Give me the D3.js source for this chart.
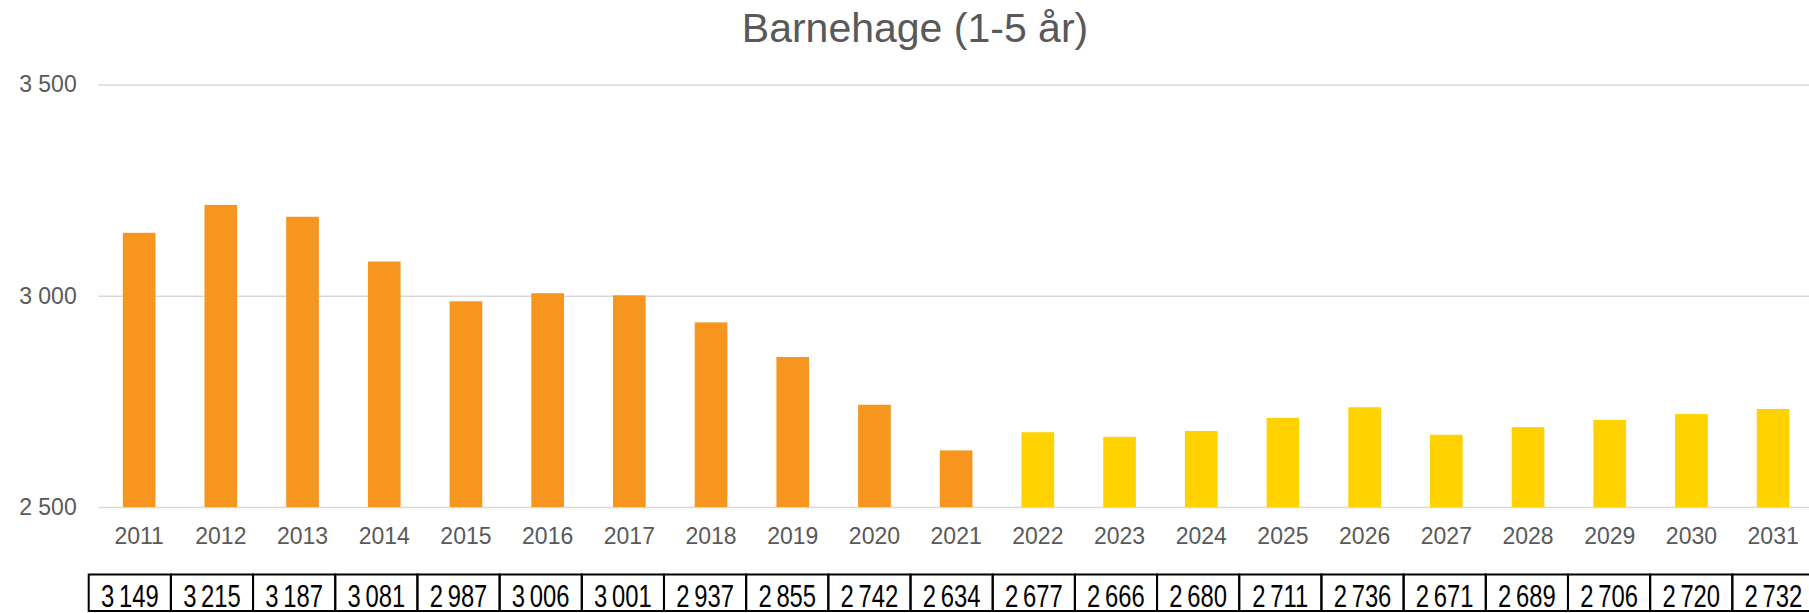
<!DOCTYPE html>
<html>
<head>
<meta charset="utf-8">
<script src="https://cdn.jsdelivr.net/npm/d3@7"></script>
<style>
  body { margin: 0; background: #fff; }
  svg { display: block; }
</style>
</head>
<body>
<div class="canvas"></div>
<script>
// data
const years = ['2011','2012','2013','2014','2015','2016','2017','2018','2019','2020','2021',
    '2022','2023','2024','2025','2026','2027','2028','2029','2030','2031'];
const values = [3149, 3215, 3187, 3081, 2987, 3006, 3001, 2937, 2855, 2742, 2634,
    2677, 2666, 2680, 2711, 2736, 2671, 2689, 2706, 2720, 2732];
const forecastFrom = '2022';
const yTicks = [2500, 3000, 3500];
const title = 'Barnehage (1-5 år)';

const width = 1809, height = 613;

const svg = d3.select('.canvas')
    .append('svg')
        .attr('width', width)
        .attr('height', height);

// scales
const x = d3.scaleBand()
    .domain(years)
    .range([98.3, 1814])
    .paddingInner(0.6)
    .paddingOuter(0.3);

const y = d3.scaleLinear()
    .domain([2500, 3500])
    .range([507, 84.5]);

// table columns (slightly different spacing than the bars)
const tx = d3.scaleBand()
    .domain(years)
    .range([88.7, 1814.5]);

const fmt = d3.formatLocale({ decimal: ',', thousands: '\u2009', grouping: [3], currency: ['', ' kr'] }).format(',d');
const fmtTick = d3.formatLocale({ decimal: ',', thousands: ' ', grouping: [3], currency: ['', ' kr'] }).format(',d');

// title
svg.append('text')
    .attr('x', 915)
    .attr('y', 41.7)
    .attr('text-anchor', 'middle')
    .attr('font-family', 'Liberation Sans, Arial, sans-serif')
    .attr('font-size', 41)
    .attr('fill', '#595959')
    .text(title);

// gridlines + y axis
const yAxis = d3.axisLeft(y)
    .tickValues(yTicks)
    .tickSize(-(width - 98.3))
    .tickPadding(21.6)
    .tickFormat(fmtTick);

const yAxisGroup = svg.append('g')
    .attr('transform', 'translate(98.3, 0)')
    .call(yAxis);

yAxisGroup.select('.domain').remove();
yAxisGroup.selectAll('line')
    .attr('stroke', '#d9d9d9')
    .attr('stroke-width', 1.5);
yAxisGroup.selectAll('text')
    .attr('font-family', 'Liberation Sans, Arial, sans-serif')
    .attr('font-size', 23)
    .attr('fill', '#595959');

// bars
svg.append('g').selectAll('rect')
    .data(values)
    .enter()
    .append('rect')
        .attr('x', (d, i) => x(years[i]))
        .attr('width', x.bandwidth())
        .attr('y', d => y(d))
        .attr('height', d => y(2500) - y(d))
        .attr('fill', (d, i) => years[i] >= forecastFrom ? '#ffd200' : '#f7961e');

// x axis labels
const xAxis = d3.axisBottom(x).tickSize(0).tickPadding(0);
const xAxisGroup = svg.append('g')
    .attr('transform', 'translate(0, 527)')
    .call(xAxis);
xAxisGroup.select('.domain').remove();
xAxisGroup.selectAll('text')
    .attr('dy', '0.73em')
    .attr('font-family', 'Liberation Sans, Arial, sans-serif')
    .attr('font-size', 23)
    .attr('fill', '#595959');

// data table under the chart
const table = svg.append('g');
table.selectAll('rect')
    .data(years)
    .enter()
    .append('rect')
        .attr('x', d => tx(d))
        .attr('y', 574.5)
        .attr('width', tx.bandwidth())
        .attr('height', 36.5)
        .attr('fill', 'none')
        .attr('stroke', '#000')
        .attr('stroke-width', 2);

// narrow font is not installed, so squeeze the regular one
table.selectAll('text')
    .data(values)
    .enter()
    .append('text')
        .attr('transform', (d, i) => `translate(${tx(years[i]) + tx.bandwidth() / 2}, 607) scale(0.78, 1)`)
        .attr('text-anchor', 'middle')
        .attr('font-family', 'Liberation Sans, Arial, sans-serif')
        .attr('font-size', 30.5)
        .attr('fill', '#000')
        .text(d => fmt(d));
</script>
</body>
</html>
